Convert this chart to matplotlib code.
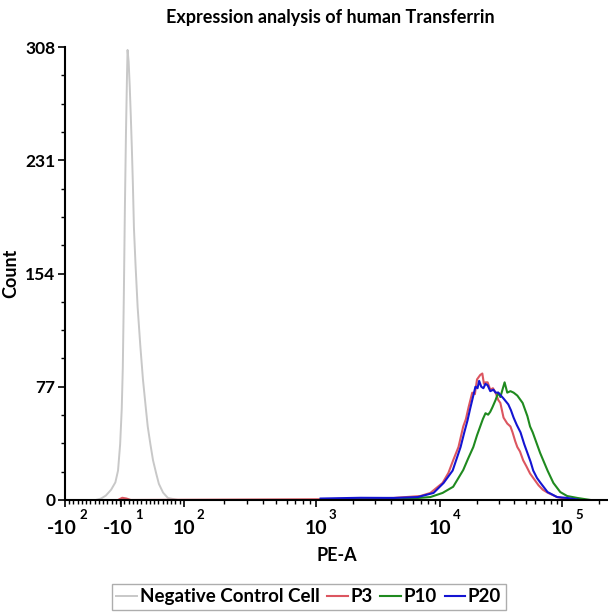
import numpy as np
import matplotlib
matplotlib.use("Agg")
import matplotlib.pyplot as plt
from matplotlib.ticker import FixedLocator
from matplotlib.transforms import blended_transform_factory, offset_copy

plt.rcParams['font.family'] = ['Lato', 'DejaVu Sans']
plt.rcParams['font.weight'] = 'bold'

# histogram data, x in display channels (0-1024), y in counts
neg_ch = [58, 68, 77, 87, 95, 100, 104, 107, 109, 111, 113, 115, 117, 118, 120,
          122, 124, 126, 128, 130, 133, 137, 142, 147, 152, 156, 161, 166, 172,
          177, 185, 194, 213, 228]
neg_count = [0, 1, 3, 7, 12, 20, 38, 62, 90, 140, 200, 250, 290, 306, 298,
             282, 262, 240, 215, 185, 160, 131, 105, 82, 64, 50, 38, 27, 18,
             11, 5, 1.4, 0, 0]

p3_ch = [100, 108, 116, 124, 482, 557, 620, 670, 689, 712, 723, 732, 742, 751,
         756, 761, 768, 773, 777, 783, 787, 790, 793, 797, 802, 807, 812, 817,
         821, 827, 834, 840, 844, 849, 853, 858, 864, 870, 877, 885, 893, 901,
         910, 928, 947, 972]
p3_count = [0, 1.5, 1, 0, 0.5, 1, 1.4, 2.7, 4.8, 11.6, 18.4, 27, 36, 50,
            55, 63, 73, 72, 82, 85, 86, 79, 80, 80, 75, 76, 73, 68,
            66, 56, 52, 50, 46, 40, 36, 33, 27, 23, 18, 14, 10, 7,
            5, 2, 0.7, 0]

p10_ch = [482, 633, 689, 712, 732, 751, 760, 770, 777, 783, 788, 793, 798, 802,
          806, 812, 817, 821, 825, 829, 834, 840, 846, 853, 859, 863, 868, 872,
          877, 882, 887, 896, 903, 910, 921, 934, 947, 966, 991]
p10_count = [0.3, 0.5, 2, 4.8, 9, 20.4, 28, 36, 44, 50, 55, 59, 58, 60,
             63, 68, 73, 70, 75, 80, 73, 74, 73, 71, 68, 66, 61, 57,
             50, 46, 41, 32, 26, 20, 11.6, 5.4, 2.7, 1.4, 0]

p20_ch = [482, 557, 620, 665, 695, 714, 731, 746, 753, 759, 764, 768, 774, 778,
          781, 785, 789, 793, 797, 802, 808, 812, 817, 822, 827, 836, 841, 846,
          852, 859, 866, 872, 878, 883, 890, 896, 910, 928, 947, 972]
p20_count = [1, 1.5, 1.4, 2, 4.8, 11.6, 20, 36, 46, 54, 62, 68, 77, 76,
             81, 77, 76, 79, 78, 74, 75, 73, 73, 71, 69, 65, 61, 56,
             51, 46, 38, 32, 26, 20, 15, 12, 5.4, 2, 1.4, 0]

# axis ticks (channel position of each decade label)
x_tick_ch = [0, 105, 224, 473, 708, 938]
x_tick_base = ['-10', '-10', '10', '10', '10', '10']
x_tick_exp = ['2', '1', '2', '3', '4', '5']
y_ticks = [0, 77, 154, 231, 308]

fig = plt.figure(figsize=(6.08, 6.14), dpi=100)
ax = fig.add_axes([65 / 608, 114 / 614, 543 / 608, 453 / 614])

ax.plot(neg_ch, neg_count, color='#c8c8c8', lw=1.4, label='Negative Control Cell')
ax.plot(p3_ch, p3_count, color='#dc5660', lw=1.5, label='P3')
ax.plot(p10_ch, p10_count, color='#1f8a1f', lw=1.5, label='P10')
ax.plot(p20_ch, p20_count, color='#1414d2', lw=1.5, label='P20')

ax.set_xlim(0, 1024)
ax.set_ylim(0, 308)

ax.spines['top'].set_visible(False)
ax.spines['right'].set_visible(False)
ax.spines['left'].set_linewidth(1.5)
ax.spines['bottom'].set_linewidth(1.5)

ax.set_xticks(x_tick_ch)
ax.set_xticklabels([''] * len(x_tick_ch))
# tick labels drawn as base + raised exponent
trans = blended_transform_factory(ax.transData, ax.transAxes)
for ch, base, ex in zip(x_tick_ch, x_tick_base, x_tick_exp):
    neg = base.startswith('-')
    t_base = offset_copy(trans, fig=fig, x=-2 if neg else 0, y=-14.5, units='points')
    ax.text(ch, 0, base, transform=t_base, ha='center', va='top', fontsize=14,
            fontweight='bold', clip_on=False)
    t_exp = offset_copy(trans, fig=fig, x=13 if neg else 12, y=-6.5, units='points')
    ax.text(ch, 0, ex, transform=t_exp, ha='center', va='top', fontsize=9.5,
            fontweight='bold', clip_on=False)

# minor ticks: linear part around zero, log decades above
minor = list(np.linspace(0, 224, 29))
for lo, hi in zip(x_tick_ch[2:-1], x_tick_ch[3:]):
    for k in range(2, 10):
        minor.append(lo + np.log10(k) * (hi - lo))
for k in range(2, 10):
    minor.append(938 + np.log10(k) * (938 - 708))
ax.xaxis.set_minor_locator(FixedLocator(minor))
ax.tick_params(axis='x', which='major', length=5, width=1.2, pad=4)
ax.tick_params(axis='x', which='minor', length=3, width=1)

ax.set_yticks(y_ticks)
ax.set_yticklabels([str(v) for v in y_ticks], fontsize=12.5)
ax.yaxis.set_minor_locator(FixedLocator([v for v in np.arange(0, 309, 19.25)]))
ax.tick_params(axis='y', which='major', length=5, width=1.2, pad=2)
ax.tick_params(axis='y', which='minor', length=3, width=1)

ax.set_xlabel('PE-A', fontsize=13, fontweight='bold', labelpad=25)
ax.set_ylabel('Count', fontsize=13, fontweight='bold', labelpad=4)
fig.text(0.543, 0.972, 'Expression analysis of human Transferrin', ha='center',
         va='center', fontsize=13, fontweight='bold')

leg = fig.legend(loc='center', bbox_to_anchor=(0.508, 0.028), ncol=4,
                 prop={'size': 13.5, 'weight': 'bold'}, frameon=True, fancybox=False,
                 handlelength=1.1, handletextpad=0.15, columnspacing=0.4,
                 borderpad=0.25, borderaxespad=0)
leg.get_frame().set_edgecolor('#999999')
leg.get_frame().set_linewidth(1)

fig.savefig('out.png', dpi=100)
